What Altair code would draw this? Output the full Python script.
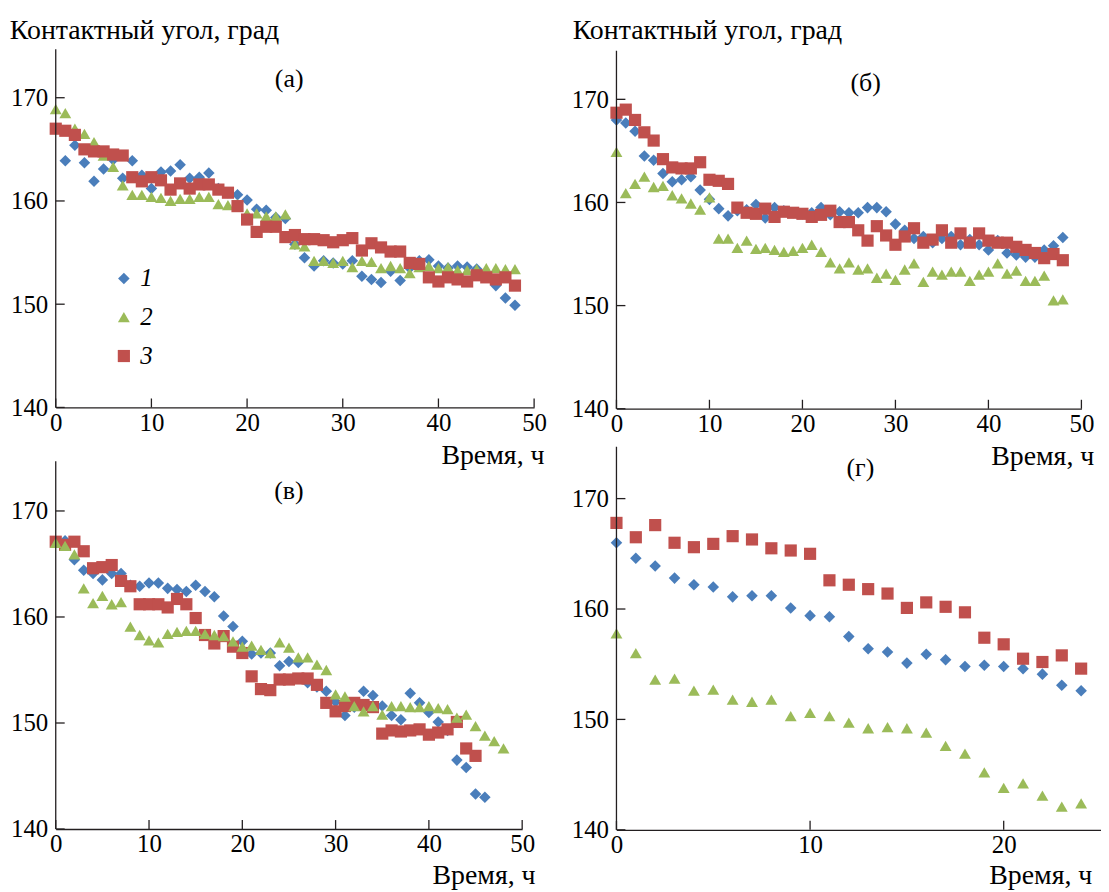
import altair as alt
import pandas as pd

FONT = "Liberation Serif, Times New Roman, Times, serif"
AX = "#231f20"
SERIES = ["1", "2", "3"]
COLORS = ["#4a7ebb", "#9bbb59", "#c0504d"]
SHAPES = ["diamond", "triangle-up", "square"]
SIZES = [135, 150, 136]
YTICKS = [140, 150, 160, 170]
YTITLE = "Контактный угол, град"
XTITLE = "Время, ч"

# ---------------- panel (а) ----------------
A_HOURS = list(range(49))
A_1 = [167.0, 163.9, 165.4, 163.7, 161.9, 163.1, 164.0, 162.2, 163.9, 162.5,
       161.2, 162.8, 162.9, 163.5, 162.2, 162.3, 162.7, 161.2, 160.8, 160.6,
       160.1, 159.2, 159.1, 158.4, 158.3, 155.8, 154.5, 153.7, 154.2, 154.0,
       153.9, 154.2, 152.7, 152.4, 152.1, 153.2, 152.3, 153.5, 154.2, 154.3,
       153.7, 153.5, 153.7, 153.6, 153.4, 152.8, 151.8, 150.6, 149.9]
A_2 = [168.9, 168.5, 167.0, 166.5, 165.7, 164.4, 163.3, 161.5, 160.6, 160.6,
       160.4, 160.3, 160.0, 160.2, 160.2, 160.4, 160.4, 159.7, 159.6, 159.7,
       158.8, 158.8, 158.5, 158.5, 158.7, 155.8, 155.6, 154.2, 154.2, 154.0,
       154.2, 153.6, 154.2, 154.1, 153.5, 153.7, 153.5, 153.0, 153.6, 153.7,
       153.5, 153.6, 153.3, 153.3, 153.4, 153.5, 153.5, 153.4, 153.4]
A_3 = [167.0, 166.8, 166.4, 165.0, 164.8, 164.8, 164.5, 164.4, 162.3, 161.9,
       162.3, 162.0, 161.1, 161.7, 161.2, 161.6, 161.6, 161.1, 160.8, 159.5,
       158.2, 157.0, 157.5, 157.5, 156.5, 156.7, 156.3, 156.3, 156.2, 156.0,
       156.2, 156.4, 155.2, 155.9, 155.5, 155.1, 155.1, 154.0, 153.9, 152.6,
       152.2, 152.6, 152.4, 152.2, 152.8, 152.6, 152.4, 152.6, 151.8]

# ---------------- panel (б) ----------------
B_HOURS = list(range(49))
B_1 = [168.0, 167.7, 166.9, 164.5, 164.1, 162.8, 162.0, 162.2, 162.5, 161.2,
       160.3, 159.4, 158.7, 159.2, 159.3, 159.8, 158.5, 159.5, 159.2, 159.0,
       158.9, 159.0, 159.5, 158.8, 159.1, 159.0, 159.0, 159.5, 159.5, 159.1,
       157.9, 157.3, 156.5, 156.7, 156.1, 156.5, 156.7, 155.9, 156.4, 155.9,
       155.4, 156.3, 155.1, 154.9, 154.7, 154.7, 155.4, 155.8, 156.6]
B_2 = [164.9, 160.9, 161.8, 162.5, 161.5, 161.6, 160.7, 160.4, 159.9, 159.3,
       160.5, 156.5, 156.5, 155.6, 156.3, 155.5, 155.6, 155.4, 155.2, 155.3,
       155.6, 155.9, 155.2, 154.2, 153.6, 154.2, 153.5, 153.6, 152.7, 153.1,
       152.5, 153.5, 154.1, 152.3, 153.3, 153.0, 153.3, 153.3, 152.4, 153.0,
       153.3, 154.1, 153.1, 153.4, 152.4, 152.4, 152.9, 150.5, 150.6]
B_3 = [168.7, 169.0, 168.0, 166.8, 166.0, 164.2, 163.4, 163.3, 163.3, 163.9,
       162.2, 162.1, 161.8, 159.5, 159.0, 158.9, 159.4, 158.6, 159.1, 159.0,
       158.9, 158.6, 158.8, 159.2, 158.1, 158.1, 157.3, 156.3, 157.7, 156.8,
       155.9, 156.7, 157.5, 156.1, 156.4, 157.3, 156.1, 157.0, 156.1, 157.0,
       156.3, 156.1, 156.1, 155.7, 155.4, 155.1, 154.6, 155.0, 154.4]

# ---------------- panel (в) ----------------
C_HOURS_1 = list(range(47))
C_HOURS_2 = list(range(49))
C_HOURS_3 = list(range(46))
C_1 = [167.0, 167.2, 165.4, 164.4, 164.1, 163.5, 164.1, 164.1, 163.0, 162.9,
       163.2, 163.2, 162.7, 162.6, 162.4, 163.0, 162.4, 161.9, 160.1, 159.1,
       157.7, 156.5, 156.6, 156.6, 155.4, 155.8, 155.7, 153.8, 153.4, 153.0,
       152.0, 150.7, 151.5, 153.0, 152.6, 151.6, 150.7, 150.3, 152.8, 151.9,
       151.0, 150.1, 149.3, 146.5, 145.8, 143.3, 143.0]
C_2 = [167.0, 166.7, 165.9, 162.7, 161.3, 162.0, 161.2, 161.4, 159.1, 158.3,
       157.8, 157.6, 158.4, 158.6, 158.7, 158.7, 158.4, 158.3, 158.2, 157.7,
       157.2, 157.3, 156.9, 156.6, 157.6, 157.1, 156.2, 156.2, 155.5, 155.0,
       152.7, 152.5, 151.6, 151.1, 151.6, 150.8, 151.6, 151.6, 151.5, 151.5,
       151.6, 151.4, 151.3, 150.5, 150.8, 149.7, 148.8, 148.3, 147.6]
C_3 = [167.1, 166.8, 167.1, 166.2, 164.6, 164.7, 164.9, 163.4, 162.9, 161.2,
       161.2, 161.2, 160.9, 161.7, 161.2, 159.9, 158.3, 157.5, 158.2, 157.2,
       156.6, 154.4, 153.2, 153.1, 154.1, 154.1, 154.2, 154.2, 153.6, 151.9,
       151.1, 151.6, 151.9, 151.7, 151.5, 149.0, 149.3, 149.2, 149.3, 149.4,
       148.9, 149.1, 149.4, 150.1, 147.6, 146.9]

# ---------------- panel (г) ----------------
D_HOURS = list(range(25))
D_1 = [166.0, 164.6, 163.9, 162.8, 162.2, 162.0, 161.1, 161.2, 161.2, 160.1,
       159.4, 159.3, 157.5, 156.4, 156.1, 155.1, 155.9, 155.4, 154.8, 154.9,
       154.8, 154.6, 154.1, 153.1, 152.6]
D_2 = [157.8, 156.0, 153.6, 153.7, 152.6, 152.7, 151.8, 151.6, 151.8, 150.3,
       150.6, 150.3, 149.7, 149.2, 149.3, 149.2, 148.8, 147.6, 146.9, 145.2,
       143.8, 144.2, 143.1, 142.1, 142.4]
D_3 = [167.8, 166.5, 167.6, 166.0, 165.6, 165.9, 166.6, 166.3, 165.5, 165.3,
       165.0, 162.6, 162.2, 161.8, 161.4, 160.1, 160.6, 160.2, 159.7, 157.4,
       156.8, 155.5, 155.2, 155.8, 154.6]

LETTERS = ["(а)", "(б)", "(в)", "(г)"]
LETTER_T = [24.4, 26.8, 25.0, 12.6]
LETTER_V = [171.8, 171.6, 171.9, 172.8]
Y_TOP = 174.7


def table(parts):
    rows = []
    for s, hours, vals in parts:
        for t, v in zip(hours, vals):
            rows.append({"t": t, "v": v, "s": s})
    df = pd.DataFrame(rows)
    df["k"] = range(len(df))
    return df


def panel(df, w, h, xmax, ymax, xticks, idx, ytitle_x=None, xtitle_x=0, xtitle_y=56,
          legend=False):
    xs = alt.Scale(domain=[0, xmax], nice=False, zero=False)
    ys = alt.Scale(domain=[140, ymax], nice=False, zero=False)
    ykw = dict(values=YTICKS, ticks=False, tickSize=0, domain=False,
               labelFont=FONT, labelFontSize=25, labelColor="black", labelPadding=8,
               grid=False, labelFlush=False)
    if ytitle_x is not None:
        ykw.update(title=YTITLE, titleAngle=0, titleAlign="left", titleBaseline="alphabetic",
                   titleX=ytitle_x, titleY=-11, titleFont=FONT, titleFontSize=28,
                   titleFontWeight="normal", titleColor="black")
    else:
        ykw.update(title=None)
    yaxis = alt.Axis(**ykw)
    xaxis = alt.Axis(values=xticks, ticks=False, tickSize=0, domainColor=AX, domainWidth=1.3,
                     labelFont=FONT, labelFontSize=25, labelColor="black", labelPadding=3,
                     labelFlush=False, grid=False, title=XTITLE, titleAngle=0,
                     titleAlign="right", titleBaseline="alphabetic", titleX=xtitle_x,
                     titleY=xtitle_y, titleFont=FONT, titleFontSize=28,
                     titleFontWeight="normal", titleColor="black")
    X = lambda f: alt.X(f, scale=xs, axis=xaxis)
    Y = lambda f: alt.Y(f, scale=ys, axis=yaxis)
    if legend:
        leg = alt.Legend(orient="none", legendX=56, legendY=218, title=None, labelFont=FONT,
                         labelFontSize=25, labelFontStyle="italic", labelColor="black",
                         symbolSize=140, rowPadding=13, labelOffset=4, padding=0,
                         symbolStrokeWidth=0)
    else:
        leg = None
    pts = alt.Chart(df).mark_point(filled=True, opacity=1, strokeWidth=0).encode(
        x=X("t:Q"), y=Y("v:Q"),
        color=alt.Color("s:N", scale=alt.Scale(domain=SERIES, range=COLORS), legend=leg),
        shape=alt.Shape("s:N", scale=alt.Scale(domain=SERIES, range=SHAPES), legend=leg),
        size=alt.Size("s:N", scale=alt.Scale(domain=SERIES, range=SIZES), legend=None),
        order=alt.Order("k:Q"),
    )
    # y axis line (from 140 to the common top value)
    ydom = alt.Chart(pd.DataFrame({"v": [140], "v2": [Y_TOP]})).mark_rule(
        color=AX, strokeWidth=1.3).encode(y=Y("v:Q"), y2="v2:Q", x=alt.value(0))
    # inward tick marks
    yt = alt.Chart(pd.DataFrame({"v": YTICKS})).mark_rule(color=AX, strokeWidth=1.3).encode(
        y=Y("v:Q"), x=alt.value(0), x2=alt.value(9))
    xt = alt.Chart(pd.DataFrame({"t": xticks})).mark_rule(color=AX, strokeWidth=1.3).encode(
        x=X("t:Q"), y=alt.value(h), y2=alt.value(h - 9))
    lt = alt.Chart(pd.DataFrame({"t": [LETTER_T[idx]], "v": [LETTER_V[idx]],
                                 "label": [LETTERS[idx]]})).mark_text(
        font=FONT, fontSize=26, color="black").encode(x=X("t:Q"), y=Y("v:Q"), text="label:N")
    return alt.layer(pts, ydom, yt, xt, lt).properties(width=w, height=h)


dfa = table([("1", A_HOURS, A_1), ("2", A_HOURS, A_2), ("3", A_HOURS, A_3)])
dfb = table([("1", B_HOURS, B_1), ("2", B_HOURS, B_2), ("3", B_HOURS, B_3)])
dfc = table([("1", C_HOURS_1, C_1), ("3", C_HOURS_3, C_3), ("2", C_HOURS_2, C_2)])
dfd = table([("1", D_HOURS, D_1), ("2", D_HOURS, D_2), ("3", D_HOURS, D_3)])

XT50 = [0, 10, 20, 30, 40, 50]
pa = panel(dfa, 481, 360.2, 50, 174.7, XT50, 0, ytitle_x=-46.7, xtitle_x=491, legend=True)
pb = panel(dfb, 467.5, 361.5, 50, 174.86, XT50, 1, ytitle_x=-44.5, xtitle_x=480)
pc = panel(dfc, 469, 384.4, 50, 176.06, XT50, 2, xtitle_x=482, xtitle_y=55)
pd_ = panel(dfd, 486.7, 385.2, 25, 174.7, [0, 10, 20], 3, xtitle_x=478, xtitle_y=54)

chart = alt.concat(pa, pb, pc, pd_, columns=2, spacing={"row": 37.7, "column": 82.8},
                   bounds="flush").resolve_scale(
    color="independent", shape="independent", size="independent"
).properties(
    padding={"left": 1, "top": 6, "right": 0, "bottom": 0}
).configure_view(stroke=None)

chart.save("out.html", embed_options={"renderer": "svg", "actions": False})
